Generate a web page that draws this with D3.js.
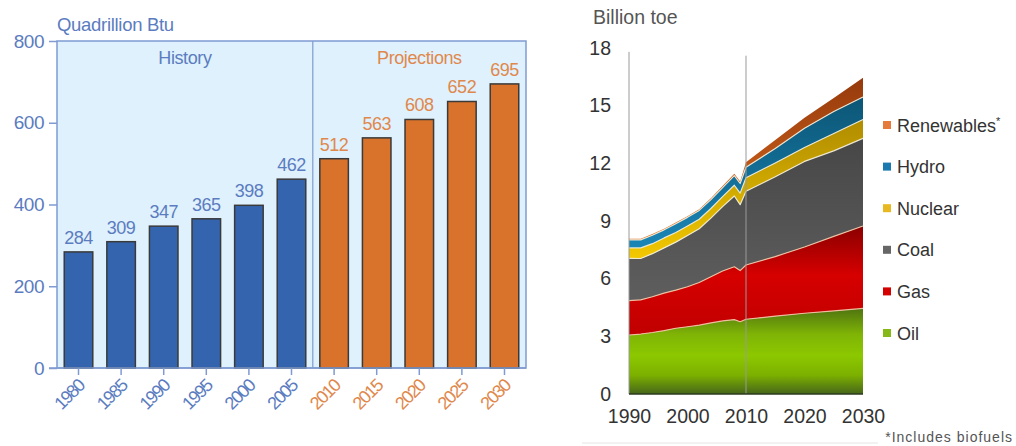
<!DOCTYPE html>
<html><head><meta charset="utf-8">
<script src="https://cdn.jsdelivr.net/npm/d3@7"></script>
<style>
html,body{margin:0;padding:0;background:#fff;}
svg{display:block;}
text{font-family:"Liberation Sans",Arial,sans-serif;}
</style></head>
<body>
<svg id="c" width="1016" height="446"></svg>
<script>
// ---------- Left chart data ----------
const barYears = ["1980","1985","1990","1995","2000","2005","2010","2015","2020","2025","2030"];
const barValues = [284,309,347,365,398,462,512,563,608,652,695];
const historyCount = 6;
const barTicks = [0,200,400,600,800];
const leftUnit = "Quadrillion Btu";
const periodLabels = ["History","Projections"];

// ---------- Right chart data ----------
const areaYears = [1990,1992,1994,1996,1998,2000,2002,2004,2006,2008,2009,2010,2015,2020,2025,2030];
const oil        = [3.07,3.12,3.20,3.30,3.42,3.50,3.58,3.70,3.80,3.87,3.76,3.89,4.05,4.20,4.32,4.45];
const gas        = [1.79,1.78,1.86,1.95,1.98,2.08,2.22,2.40,2.60,2.75,2.66,2.82,3.10,3.45,3.88,4.29];
const coal       = [2.20,2.15,2.24,2.35,2.50,2.67,2.80,3.05,3.35,3.68,3.43,3.84,4.15,4.45,4.45,4.56];
const nuclear    = [0.54,0.55,0.52,0.52,0.50,0.49,0.49,0.50,0.52,0.56,0.60,0.70,0.72,0.72,0.90,0.98];
const hydro      = [0.42,0.42,0.44,0.42,0.46,0.45,0.46,0.46,0.47,0.50,0.50,0.55,0.75,1.00,1.15,1.17];
const renewables = [0.06,0.06,0.06,0.06,0.06,0.06,0.06,0.07,0.08,0.10,0.10,0.25,0.45,0.55,0.70,1.00];
const fuelKeys = ["Oil","Gas","Coal","Nuclear","Hydro","Renewables"];
const areaTicksY = [0,3,6,9,12,15,18];
const areaTicksX = [1990,2000,2010,2020,2030];
const rightUnit = "Billion toe";
const footnote = "*Includes biofuels";

const svg = d3.select("#c");
const defs = svg.append("defs");

// ================= LEFT CHART =================
const blueText = "#5b7cc0", orangeText = "#e0884c";
const L = {left:57, right:526, top:41, bottom:368};
const xb = d3.scaleBand().domain(barYears).range([L.left, L.right]).paddingInner(0.33).paddingOuter(0.17);
const yb = d3.scaleLinear().domain([0,800]).range([L.bottom, L.top]);

const lg = svg.append("g");
lg.append("rect").attr("x",L.left).attr("y",L.top).attr("width",L.right-L.left).attr("height",L.bottom-L.top)
  .attr("fill","#dff1fc").attr("stroke","#7f9bd2").attr("stroke-width",1.5);
const divX = xb(barYears[historyCount]) - xb.step()*xb.paddingInner()/2;
lg.append("line").attr("x1",divX).attr("x2",divX).attr("y1",L.top).attr("y2",L.bottom)
  .attr("stroke","#7f9bd2").attr("stroke-width",1.2);

lg.selectAll("rect.bar").data(barYears).join("rect").attr("class","bar")
  .attr("x",d=>xb(d)).attr("width",xb.bandwidth())
  .attr("y",(d,i)=>yb(barValues[i])).attr("height",(d,i)=>yb(0)-yb(barValues[i]))
  .attr("fill",(d,i)=>i<historyCount?"#3564ae":"#d9722b")
  .attr("stroke","#3a3a3a").attr("stroke-width",1.5);

lg.selectAll("text.val").data(barYears).join("text").attr("class","val")
  .attr("x",d=>xb(d)+xb.bandwidth()/2).attr("y",(d,i)=>yb(barValues[i])-8)
  .attr("text-anchor","middle").attr("font-size",18).attr("letter-spacing","-0.5")
  .attr("fill",(d,i)=>i<historyCount?blueText:orangeText)
  .text((d,i)=>barValues[i]);

// y axis
const yAxisL = lg.append("g").attr("transform",`translate(${L.left},0)`)
  .call(d3.axisLeft(yb).tickValues(barTicks).tickSize(8).tickPadding(5));
yAxisL.select(".domain").remove();
yAxisL.selectAll(".tick line").attr("stroke","#7f9bd2").attr("stroke-width",1.5);
yAxisL.selectAll(".tick text").attr("fill",blueText).attr("font-size",19).attr("letter-spacing","-0.5")
  .attr("font-family","Liberation Sans, Arial, sans-serif");

// x axis
const xAxisL = lg.append("g").attr("transform",`translate(0,${L.bottom})`)
  .call(d3.axisBottom(xb).tickSize(7).tickSizeOuter(0));
xAxisL.select(".domain").attr("stroke","#7f9bd2").attr("stroke-width",1.5).attr("d",`M${L.left-8},0H${L.right}`);
xAxisL.selectAll(".tick line").attr("stroke","#7f9bd2").attr("stroke-width",1.5);
xAxisL.selectAll(".tick text")
  .attr("fill",(d,i)=>i<historyCount?blueText:orangeText)
  .attr("font-size",18).attr("letter-spacing","-1.6")
  .attr("font-family","Liberation Sans, Arial, sans-serif")
  .attr("text-anchor","end").attr("dy",null).attr("y",0)
  .attr("transform","translate(7,19) rotate(-45)");

lg.append("text").attr("x",L.left).attr("y",31).attr("font-size",18.5).attr("letter-spacing","-0.3")
  .attr("fill",blueText).text(leftUnit);
lg.append("text").attr("x",(L.left+divX)/2).attr("y",64).attr("text-anchor","middle")
  .attr("font-size",18).attr("letter-spacing","-0.4").attr("fill",blueText).text(periodLabels[0]);
lg.append("text").attr("x",(divX+L.right)/2).attr("y",64).attr("text-anchor","middle")
  .attr("font-size",18).attr("letter-spacing","-0.4").attr("fill",orangeText).text(periodLabels[1]);

// ================= RIGHT CHART =================
const xr = d3.scaleLinear().domain([1990,2030]).range([629,863]);
const yr = d3.scaleLinear().domain([0,18]).range([394,48]);
const series = {Oil:oil,Gas:gas,Coal:coal,Nuclear:nuclear,Hydro:hydro,Renewables:renewables};
const rows = areaYears.map((y,i)=>{const o={year:y}; fuelKeys.forEach(k=>o[k]=series[k][i]); return o;});
const stacked = d3.stack().keys(fuelKeys)(rows);

const grads = {
  Oil:[["0%","#4f7410"],["30%","#7fb406"],["55%","#8cc800"],["78%","#7cb000"],["100%","#46661a"]],
  Gas:[["0%","#8a0000"],["45%","#d60000"],["100%","#c00000"]],
  Coal:[["0%","#474747"],["100%","#5e5e5e"]],
  Nuclear:[["0%","#b08c00"],["100%","#f2c800"]],
  Hydro:[["0%","#0c5676"],["100%","#1a86b6"]],
  Renewables:[["0%","#963a0c"],["100%","#e07020"]]
};
fuelKeys.forEach(k=>{
  const g = defs.append("linearGradient").attr("id","g"+k).attr("x1",0).attr("x2",0).attr("y1",0).attr("y2",1);
  grads[k].forEach(s=>g.append("stop").attr("offset",s[0]).attr("stop-color",s[1]));
});
const legendColors = {Oil:"#86b818",Gas:"#d40000",Coal:"#666666",Nuclear:"#e8b820",Hydro:"#1a7ab0",Renewables:"#e57a3a"};

const area = d3.area().x(d=>xr(d.data.year)).y0(d=>yr(d[0])).y1(d=>yr(d[1])).curve(d3.curveLinear);
const topLine = d3.line().x(d=>xr(d.data.year)).y(d=>yr(d[1])).curve(d3.curveLinear);

const rg = svg.append("g");
rg.selectAll("path.area").data(stacked).join("path").attr("class","area")
  .attr("d",area).attr("fill",d=>`url(#g${d.key})`);
rg.selectAll("path.sep").data(stacked.slice(0,5)).join("path").attr("class","sep")
  .attr("d",topLine).attr("fill","none").attr("stroke-linejoin","round")
  .attr("stroke",(d,i)=>i<2?"#f3c9a8":"#f4eedc").attr("stroke-width",1.2).attr("opacity",0.9);

// axes
rg.append("line").attr("x1",xr(1990)).attr("x2",xr(1990)).attr("y1",yr(17.8)).attr("y2",yr(0))
  .attr("stroke","#9a9a9a").attr("stroke-width",1);
rg.append("line").attr("x1",xr(2010)).attr("x2",xr(2010)).attr("y1",yr(17.6)).attr("y2",yr(0))
  .attr("stroke","#9a9a9a").attr("stroke-width",1);
rg.append("line").attr("x1",xr(1990)).attr("x2",xr(2030)).attr("y1",yr(0)).attr("y2",yr(0))
  .attr("stroke","#2c3a1c").attr("stroke-width",1.5);

const yAxisR = rg.append("g").attr("transform",`translate(${xr(1990)},0)`)
  .call(d3.axisLeft(yr).tickValues(areaTicksY).tickSize(0).tickPadding(18));
yAxisR.select(".domain").remove();
yAxisR.selectAll(".tick text").attr("fill","#333").attr("font-size",19.5)
  .attr("font-family","Liberation Sans, Arial, sans-serif");

const xAxisR = rg.append("g").attr("transform",`translate(0,${yr(0)})`)
  .call(d3.axisBottom(xr).tickValues(areaTicksX).tickFormat(d3.format("d")).tickSize(0).tickPadding(15));
xAxisR.select(".domain").remove();
xAxisR.selectAll(".tick text").attr("fill","#333").attr("font-size",19.5)
  .attr("font-family","Liberation Sans, Arial, sans-serif");

rg.append("text").attr("x",593).attr("y",24).attr("font-size",19.5).attr("fill","#555").text(rightUnit);

// legend
const legendOrder = fuelKeys.slice().reverse();
const lgd = rg.selectAll("g.leg").data(legendOrder).join("g").attr("class","leg")
  .attr("transform",(d,i)=>`translate(883,${125+i*41.6})`);
lgd.append("rect").attr("x",0).attr("y",-4).attr("width",8).attr("height",8).attr("fill",d=>legendColors[d]);
lgd.append("text").attr("x",14).attr("y",6.5).attr("font-size",18).attr("fill","#333")
  .each(function(d){
    const t = d3.select(this);
    t.append("tspan").text(d);
    if(d==="Renewables") t.append("tspan").attr("dy",-7).attr("font-size",11).text("*");
  });

rg.append("line").attr("x1",582).attr("x2",878).attr("y1",443).attr("y2",443).attr("stroke","#e4e4e4");
rg.append("text").attr("x",1013).attr("y",442).attr("text-anchor","end").attr("font-size",14)
  .attr("letter-spacing","1").attr("fill","#555").text(footnote);
</script>
</body></html>
